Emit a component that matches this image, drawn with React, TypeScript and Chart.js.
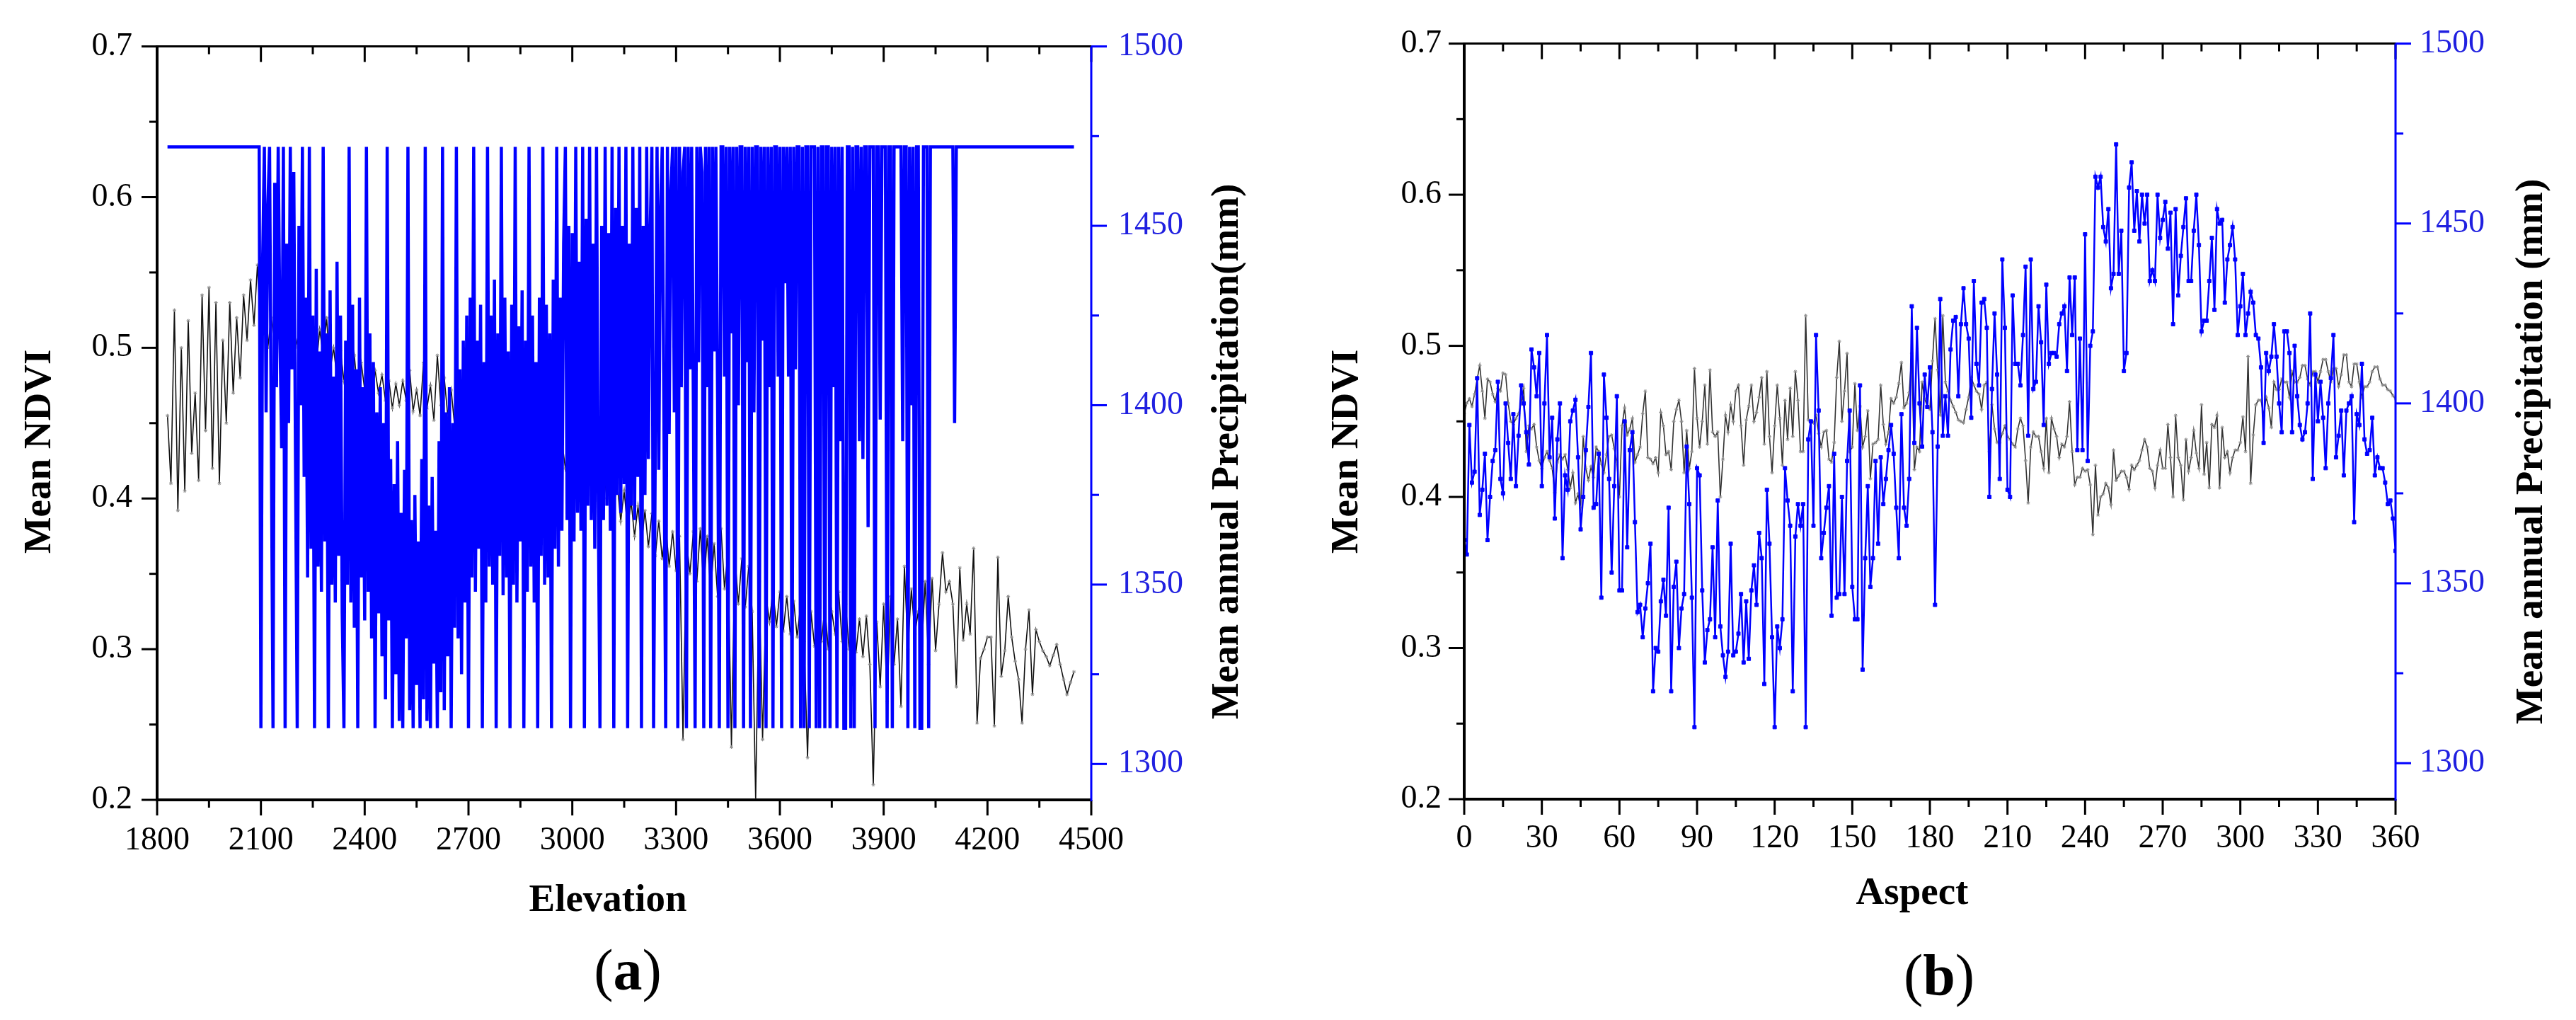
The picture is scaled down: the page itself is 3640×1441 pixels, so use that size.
import React, { useEffect, useRef } from 'react';
import Chart from 'chart.js/auto';

// (a) NDVI sampled every 10 m from 1830 m
const NDVI_ELEV_START = 1830;
const NDVI_ELEV_STEP = 10;
// (a) precipitation sampled every 5 m from 1830 m
const PRECIP_ELEV_START = 1830;
const PRECIP_ELEV_STEP = 5;

const ndviByElevation = [
  0.455, 0.410, 0.525, 0.392, 0.500, 0.405, 0.518, 0.430, 0.470, 0.412,
  0.535, 0.445, 0.540, 0.420, 0.530, 0.410, 0.505, 0.450, 0.530, 0.470,
  0.520, 0.480, 0.535, 0.505, 0.545, 0.515, 0.555, 0.510, 0.525, 0.500,
  0.520, 0.505, 0.515, 0.495, 0.518, 0.502, 0.512, 0.500, 0.510, 0.495,
  0.508, 0.498, 0.505, 0.488, 0.512, 0.495, 0.520, 0.485, 0.500, 0.480,
  0.498, 0.478, 0.492, 0.475, 0.495, 0.470, 0.490, 0.472, 0.488, 0.468,
  0.485, 0.470, 0.482, 0.465, 0.478, 0.460, 0.476, 0.462, 0.478, 0.465,
  0.485, 0.458, 0.472, 0.455, 0.490, 0.460, 0.475, 0.452, 0.495, 0.462,
  0.480, 0.455, 0.472, 0.448, 0.478, 0.460, 0.470, 0.455, 0.468, 0.450,
  0.465, 0.448, 0.462, 0.445, 0.460, 0.442, 0.458, 0.440, 0.455, 0.438,
  0.452, 0.435, 0.450, 0.432, 0.448, 0.430, 0.446, 0.428, 0.444, 0.426,
  0.442, 0.425, 0.440, 0.422, 0.438, 0.420, 0.436, 0.418, 0.434, 0.415,
  0.430, 0.412, 0.428, 0.410, 0.425, 0.405, 0.420, 0.400, 0.415, 0.395,
  0.410, 0.385, 0.405, 0.380, 0.398, 0.375, 0.395, 0.370, 0.392, 0.368,
  0.390, 0.362, 0.385, 0.360, 0.382, 0.355, 0.378, 0.352, 0.375, 0.240,
  0.372, 0.350, 0.378, 0.345, 0.380, 0.340, 0.375, 0.338, 0.370, 0.335,
  0.380, 0.340, 0.365, 0.235, 0.362, 0.330, 0.360, 0.328, 0.355, 0.325,
  0.200, 0.345, 0.240, 0.335, 0.318, 0.340, 0.315, 0.338, 0.312, 0.335,
  0.310, 0.332, 0.308, 0.330, 0.305, 0.228, 0.325, 0.302, 0.330, 0.305,
  0.328, 0.300, 0.325, 0.310, 0.338, 0.305, 0.330, 0.300, 0.325, 0.298,
  0.320, 0.295, 0.322, 0.290, 0.210, 0.318, 0.275, 0.330, 0.265, 0.335,
  0.290, 0.320, 0.262, 0.355, 0.300, 0.340, 0.310, 0.325, 0.300, 0.345,
  0.290, 0.347, 0.299, 0.330, 0.364, 0.338, 0.345, 0.330, 0.275, 0.354,
  0.306, 0.330, 0.310, 0.367, 0.251, 0.294, 0.300, 0.308, 0.308, 0.249,
  0.361, 0.282, 0.299, 0.335, 0.308, 0.292, 0.280, 0.251, 0.300, 0.326,
  0.270, 0.313, 0.305, 0.299, 0.295, 0.289, 0.296, 0.303, 0.290, 0.280,
  0.270, 0.278, 0.285,
];

const precipByElevation = [
  // 1830-2090
  1472, 1472, 1472, 1472, 1472, 1472, 1472, 1472, 1472, 1472,
  1472, 1472, 1472, 1472, 1472, 1472, 1472, 1472, 1472, 1472,
  1472, 1472, 1472, 1472, 1472, 1472, 1472, 1472, 1472, 1472,
  1472, 1472, 1472, 1472, 1472, 1472, 1472, 1472, 1472, 1472,
  1472, 1472, 1472, 1472, 1472, 1472, 1472, 1472, 1472, 1472,
  1472, 1472, 1472,
  // 2095-2225
  1472, 1310, 1440, 1472, 1398, 1455, 1472, 1392, 1310, 1462,
  1405, 1472, 1420, 1388, 1472, 1310, 1445, 1395, 1472, 1410,
  1465, 1385, 1310, 1450, 1400, 1472, 1380,
  // 2230-2325
  1430, 1352, 1472, 1360, 1425, 1310, 1438, 1355, 1415, 1348,
  1472, 1362, 1420, 1310, 1432, 1350, 1408, 1345, 1440, 1358,
  // 2330-2445
  1425, 1342, 1310, 1418, 1350, 1472, 1345, 1428, 1338, 1410,
  1310, 1430, 1352, 1405, 1340, 1472, 1348, 1420, 1335, 1412,
  1310, 1398, 1342, 1405,
  // 2450-2685
  1330, 1395, 1318, 1472, 1340, 1385, 1310, 1378, 1325, 1390,
  1312, 1370, 1310, 1382, 1335, 1472, 1315, 1368, 1310, 1375,
  1322, 1362, 1310, 1385, 1318, 1472, 1312, 1372, 1310, 1380,
  1328, 1365, 1310, 1390, 1320, 1472, 1315, 1398, 1330, 1405,
  1310, 1395, 1338, 1472, 1335, 1410, 1325, 1418,
  // 2690-2965
  1345, 1425, 1310, 1430, 1352, 1472, 1348, 1418, 1360, 1428,
  1310, 1412, 1345, 1472, 1355, 1425, 1350, 1435, 1310, 1420,
  1358, 1472, 1347, 1430, 1352, 1415, 1310, 1428, 1350, 1472,
  1345, 1422, 1362, 1432, 1310, 1418, 1348, 1472, 1355, 1425,
  1345, 1412, 1310, 1430, 1358, 1472, 1350, 1428, 1352, 1420,
  1310, 1435, 1360, 1472, 1355, 1430,
  // 2970-3285
  1365, 1445, 1472, 1368, 1450, 1310, 1448, 1362, 1472, 1370,
  1440, 1365, 1472, 1310, 1452, 1372, 1472, 1368, 1445, 1360,
  1472, 1375, 1310, 1450, 1368, 1472, 1372, 1448, 1365, 1472,
  1310, 1455, 1375, 1472, 1370, 1450, 1378, 1472, 1310, 1445,
  1372, 1472, 1368, 1455, 1380, 1472, 1310, 1450, 1375, 1472,
  1385, 1448, 1472, 1310, 1390, 1472, 1382, 1455, 1472, 1395,
  1310, 1472, 1392, 1460,
  // 3290-3695
  1472, 1398, 1472, 1310, 1472, 1405, 1465, 1472, 1310, 1472,
  1410, 1472, 1400, 1310, 1472, 1412, 1472, 1465, 1310, 1472,
  1405, 1472, 1310, 1472, 1415, 1472, 1402, 1310, 1472, 1472,
  1408, 1472, 1310, 1472, 1420, 1472, 1310, 1472, 1400, 1472,
  1472, 1310, 1472, 1412, 1472, 1310, 1472, 1398, 1472, 1472,
  1310, 1472, 1418, 1472, 1310, 1472, 1405, 1472, 1310, 1472,
  1472, 1408, 1472, 1310, 1472, 1434, 1472, 1408, 1472, 1310,
  1472, 1410, 1472, 1472, 1310, 1472, 1310, 1472, 1472, 1310,
  1472, 1472,
  // 3700-4040
  1472, 1310, 1472, 1310, 1472, 1472, 1310, 1472, 1472, 1310,
  1472, 1405, 1472, 1310, 1472, 1390, 1472, 1310, 1310, 1472,
  1472, 1310, 1472, 1310, 1472, 1472, 1390, 1472, 1385, 1472,
  1472, 1366, 1472, 1472, 1472, 1310, 1472, 1472, 1396, 1472,
  1472, 1472, 1310, 1472, 1472, 1310, 1472, 1472, 1472, 1472,
  1472, 1390, 1472, 1472, 1310, 1472, 1400, 1472, 1310, 1472,
  1472, 1310, 1310, 1472, 1472, 1472, 1310, 1472, 1472,
  // 4045-4450
  1472, 1472, 1472, 1472, 1472, 1472, 1472, 1472, 1472, 1472,
  1472, 1472, 1395,
  1472, 1472, 1472, 1472, 1472, 1472, 1472, 1472, 1472, 1472,
  1472, 1472, 1472, 1472, 1472, 1472, 1472, 1472, 1472, 1472,
  1472, 1472, 1472, 1472, 1472, 1472, 1472, 1472, 1472, 1472,
  1472, 1472, 1472, 1472, 1472, 1472, 1472, 1472, 1472, 1472,
  1472, 1472, 1472, 1472, 1472, 1472, 1472, 1472, 1472, 1472,
  1472, 1472, 1472, 1472, 1472, 1472, 1472, 1472, 1472, 1472,
  1472, 1472, 1472, 1472, 1472, 1472, 1472, 1472, 1472,
];

// (b) aspect profile, one value per degree 0..360
const ndviByAspect = [
  0.455, 0.462, 0.465, 0.460, 0.468, 0.478, 0.487, 0.470, 0.452, 0.478,
  0.476, 0.468, 0.463, 0.472, 0.470, 0.482, 0.481, 0.462, 0.450, 0.448,
  0.452, 0.455, 0.462, 0.472, 0.430, 0.447, 0.445, 0.448, 0.433, 0.424,
  0.419, 0.426, 0.430, 0.424, 0.419, 0.403, 0.423, 0.428, 0.425, 0.428,
  0.418, 0.406, 0.416, 0.396, 0.402, 0.393, 0.440, 0.419, 0.411, 0.420,
  0.413, 0.433, 0.430, 0.422, 0.416, 0.428, 0.440, 0.441, 0.432, 0.423,
  0.400, 0.447, 0.459, 0.441, 0.445, 0.452, 0.423, 0.428, 0.433, 0.455,
  0.470, 0.426, 0.425, 0.422, 0.426, 0.416, 0.456, 0.447, 0.428, 0.430,
  0.418, 0.450, 0.458, 0.464, 0.450, 0.416, 0.444, 0.419, 0.430, 0.485,
  0.452, 0.433, 0.450, 0.474, 0.435, 0.484, 0.443, 0.440, 0.443, 0.400,
  0.425, 0.454, 0.443, 0.461, 0.450, 0.470, 0.474, 0.447, 0.421, 0.451,
  0.460, 0.474, 0.450, 0.456, 0.466, 0.479, 0.435, 0.483, 0.440, 0.416,
  0.447, 0.474, 0.452, 0.421, 0.464, 0.438, 0.472, 0.440, 0.483, 0.464,
  0.430, 0.430, 0.520, 0.451, 0.450, 0.449, 0.454, 0.442, 0.433, 0.443,
  0.444, 0.425, 0.423, 0.436, 0.479, 0.503, 0.450, 0.470, 0.495, 0.430,
  0.433, 0.475, 0.444, 0.460, 0.433, 0.440, 0.457, 0.412, 0.435, 0.436,
  0.438, 0.474, 0.448, 0.435, 0.443, 0.465, 0.462, 0.466, 0.475, 0.489,
  0.459, 0.462, 0.469, 0.495, 0.418, 0.433, 0.430, 0.476, 0.465, 0.460,
  0.458, 0.490, 0.518, 0.484, 0.454, 0.520, 0.476, 0.470, 0.464, 0.460,
  0.456, 0.451, 0.450, 0.449, 0.458, 0.466, 0.479, 0.474, 0.470, 0.468,
  0.458, 0.474, 0.476, 0.430, 0.461, 0.445, 0.436, 0.436, 0.442, 0.447,
  0.440, 0.438, 0.435, 0.433, 0.445, 0.452, 0.447, 0.424, 0.396, 0.433,
  0.443, 0.440, 0.440, 0.430, 0.419, 0.452, 0.416, 0.452, 0.445, 0.440,
  0.426, 0.435, 0.433, 0.440, 0.463, 0.430, 0.408, 0.413, 0.413, 0.419,
  0.417, 0.418, 0.408, 0.375, 0.421, 0.388, 0.400, 0.402, 0.409, 0.406,
  0.395, 0.431, 0.411, 0.414, 0.417, 0.417, 0.413, 0.405, 0.421, 0.418,
  0.421, 0.424, 0.431, 0.438, 0.433, 0.419, 0.417, 0.406, 0.421, 0.431,
  0.419, 0.419, 0.448, 0.426, 0.400, 0.454, 0.426, 0.421, 0.398, 0.438,
  0.417, 0.426, 0.444, 0.429, 0.419, 0.461, 0.415, 0.436, 0.406, 0.448,
  0.446, 0.454, 0.406, 0.446, 0.426, 0.430, 0.416, 0.426, 0.431, 0.431,
  0.436, 0.453, 0.430, 0.493, 0.409, 0.441, 0.461, 0.464, 0.464, 0.454,
  0.466, 0.459, 0.446, 0.476, 0.471, 0.471, 0.478, 0.476, 0.476, 0.466,
  0.483, 0.476, 0.476, 0.479, 0.487, 0.487, 0.478, 0.474, 0.483, 0.483,
  0.476, 0.483, 0.491, 0.491, 0.483, 0.476, 0.485, 0.485, 0.473, 0.481,
  0.494, 0.494, 0.476, 0.473, 0.488, 0.488, 0.476, 0.466, 0.473, 0.473,
  0.476, 0.483, 0.486, 0.486, 0.478, 0.474, 0.474, 0.471, 0.470, 0.467,
  0.465,
];

const precipByAspect = [
  1362, 1358, 1394, 1378, 1381, 1407, 1369, 1376, 1386, 1362,
  1374, 1384, 1387, 1406, 1379, 1375, 1400, 1389, 1379, 1397,
  1377, 1391, 1405, 1400, 1392, 1383, 1415, 1410, 1402, 1414,
  1377, 1400, 1419, 1385, 1396, 1368, 1390, 1400, 1357, 1380,
  1376, 1395, 1398, 1401, 1385, 1365, 1374, 1387, 1399, 1414,
  1371, 1372, 1386, 1346, 1408, 1396, 1379, 1353, 1377, 1402,
  1348, 1348, 1395, 1360, 1387, 1392, 1367, 1342, 1344, 1335,
  1343, 1350, 1361, 1320, 1332, 1331, 1345, 1351, 1341, 1371,
  1320, 1349, 1356, 1332, 1343, 1347, 1388, 1372, 1346, 1310,
  1382, 1380, 1348, 1328, 1337, 1340, 1360, 1335, 1373, 1338,
  1330, 1324, 1331, 1361, 1330, 1331, 1336, 1347, 1328, 1345,
  1329, 1348, 1355, 1344, 1364, 1357, 1322, 1376, 1361, 1335,
  1310, 1338, 1332, 1340, 1382, 1373, 1366, 1320, 1363, 1372,
  1366, 1372, 1310, 1390, 1395, 1366, 1419, 1398, 1357, 1364,
  1371, 1377, 1341, 1386, 1346, 1347, 1374, 1347, 1384, 1398,
  1349, 1340, 1340, 1405, 1326, 1357, 1377, 1349, 1357, 1384,
  1361, 1385, 1372, 1379, 1387, 1394, 1386, 1371, 1357, 1397,
  1371, 1366, 1379, 1427, 1389, 1421, 1400, 1388, 1408, 1399,
  1410, 1392, 1344, 1388, 1429, 1391, 1402, 1391, 1415, 1423,
  1424, 1402, 1422, 1432, 1422, 1418, 1396, 1434, 1411, 1405,
  1428, 1429, 1421, 1374, 1404, 1425, 1408, 1379, 1440, 1421,
  1376, 1374, 1430, 1411, 1411, 1405, 1419, 1438, 1391, 1440,
  1404, 1406, 1427, 1417, 1394, 1433, 1411, 1414, 1414, 1413,
  1422, 1425, 1427, 1409, 1435, 1419, 1435, 1387, 1418, 1387,
  1447, 1384, 1416, 1420, 1463, 1460, 1463, 1449, 1445, 1454,
  1432, 1436, 1472, 1436, 1448, 1409, 1414, 1460, 1467, 1448,
  1459, 1445, 1458, 1450, 1458, 1434, 1437, 1434, 1458, 1446,
  1451, 1456, 1443, 1453, 1422, 1454, 1430, 1441, 1449, 1457,
  1434, 1434, 1448, 1458, 1444, 1420, 1423, 1423, 1434, 1446,
  1426, 1454, 1450, 1451, 1428, 1440, 1444, 1449, 1440, 1419,
  1427, 1436, 1419, 1425, 1431, 1428, 1419, 1418, 1410, 1389,
  1414, 1409, 1413, 1422, 1413, 1400, 1392, 1420, 1420, 1414,
  1392, 1416, 1402, 1394, 1390, 1392, 1400, 1425, 1379, 1408,
  1395, 1406, 1396, 1382, 1400, 1407, 1419, 1385, 1391, 1398,
  1380, 1398, 1400, 1402, 1367, 1397, 1394, 1411, 1390, 1386,
  1387, 1396, 1380, 1385, 1382, 1382, 1378, 1372, 1373, 1368,
  1359,
];

const ndviTicks = [0.2, 0.3, 0.4, 0.5, 0.6, 0.7];
const precipTicks = [1300, 1350, 1400, 1450, 1500];
const elevationTicks = [1800, 2100, 2400, 2700, 3000, 3300, 3600, 3900, 4200, 4500];
const aspectTicks = [0, 30, 60, 90, 120, 150, 180, 210, 240, 270, 300, 330, 360];

const BLUE = '#0000ff';
const FONT = '"Liberation Serif", "Times New Roman", serif';
const W = 1820;
const H = 1441;

const mids = (t: number[]) => t.slice(1).map((v, i) => (v + t[i]) / 2);

// axis frame, tick marks, titles and caption
const framePlugin = {
  id: 'frame',
  afterDraw(chart: any) {
    const o = chart.options.plugins.frame;
    const { ctx, chartArea: a } = chart;
    const sx = chart.scales.x;
    const sy = chart.scales.y;
    const sy2 = chart.scales.y2;
    const MAJ = 22;
    const MIN = 11;
    ctx.save();
    const line = (x1: number, y1: number, x2: number, y2: number, c: string, w: number) => {
      ctx.strokeStyle = c;
      ctx.lineWidth = w;
      ctx.beginPath();
      ctx.moveTo(x1, y1);
      ctx.lineTo(x2, y2);
      ctx.stroke();
    };
    o.xTicks.forEach((v: number) => {
      const p = sx.getPixelForValue(v);
      line(p, a.bottom, p, a.bottom + MAJ, '#000', 3);
      line(p, a.top, p, a.top + MAJ, '#000', 3);
    });
    mids(o.xTicks).forEach((v: number) => {
      const p = sx.getPixelForValue(v);
      line(p, a.bottom, p, a.bottom + MIN, '#000', 3);
      line(p, a.top, p, a.top + MIN, '#000', 3);
    });
    ndviTicks.forEach((v) => {
      const p = sy.getPixelForValue(v);
      line(a.left - MAJ, p, a.left, p, '#000', 3);
    });
    mids(ndviTicks).forEach((v) => {
      const p = sy.getPixelForValue(v);
      line(a.left - MIN, p, a.left, p, '#000', 3);
    });
    precipTicks.forEach((v) => {
      const p = sy2.getPixelForValue(v);
      line(a.right, p, a.right + MAJ, p, BLUE, 3);
    });
    mids(precipTicks).forEach((v) => {
      const p = sy2.getPixelForValue(v);
      line(a.right, p, a.right + MIN, p, BLUE, 3);
    });
    line(a.left, a.top, a.right, a.top, '#000', 3);
    line(a.left, a.bottom, a.right, a.bottom, '#000', 4);
    line(a.left, a.top - 1.5, a.left, a.bottom + 2, '#000', 4);
    line(a.right, a.top, a.right, a.bottom + 2, BLUE, 3);

    ctx.fillStyle = '#000';
    ctx.font = `bold 55px ${FONT}`;
    ctx.textAlign = 'center';
    ctx.textBaseline = 'alphabetic';
    ctx.fillText(o.xTitle, (a.left + a.right) / 2 + o.xTitleDx, o.xTitleY);

    ctx.save();
    ctx.translate(a.left - 151, 638);
    ctx.rotate(-Math.PI / 2);
    ctx.fillText('Mean NDVI', 0, 0);
    ctx.restore();

    ctx.save();
    ctx.translate(a.right + 207, 638);
    ctx.rotate(-Math.PI / 2);
    ctx.fillText(o.y2Title, 0, 0);
    ctx.restore();

    // caption like "(a)" with a bold letter
    const parts = [
      { t: '(', f: `82px ${FONT}` },
      { t: o.caption, f: `bold 82px ${FONT}` },
      { t: ')', f: `82px ${FONT}` },
    ];
    const widths = parts.map((p) => {
      ctx.font = p.f;
      return ctx.measureText(p.t).width;
    });
    let cx = (a.left + a.right) / 2 + o.captionDx - widths.reduce((s, w) => s + w, 0) / 2;
    ctx.textAlign = 'left';
    parts.forEach((p, i) => {
      ctx.font = p.f;
      ctx.fillText(p.t, cx, o.captionY);
      cx += widths[i];
    });
    ctx.restore();
  },
};

type PanelCfg = {
  ndvi: { x: number; y: number }[];
  precip: { x: number; y: number }[];
  xMin: number;
  xMax: number;
  xTicks: number[];
  left: number;
  right: number;
  bottom: number;
  xTitle: string;
  xTitleDx: number;
  xTitleY: number;
  y2Title: string;
  caption: string;
  captionDx: number;
  captionY: number;
  xPad: number;
  yPad: number;
  y2Pad: number;
  ndviColor: string;
  blueWidth: number;
  blueRadius: number;
};

const Panel: React.FC<{ cfg: PanelCfg }> = ({ cfg }) => {
  const canvasRef = useRef<HTMLCanvasElement>(null);

  useEffect(() => {
    if (!canvasRef.current) return;
    const tickFont = { family: FONT, size: 46 };
    const chart = new Chart(canvasRef.current, {
      type: 'line',
      data: {
        datasets: [
          {
            label: 'Mean annual Precipitation',
            data: cfg.precip,
            yAxisID: 'y2',
            borderColor: BLUE,
            backgroundColor: BLUE,
            borderWidth: cfg.blueWidth,
            pointRadius: cfg.blueRadius,
            pointStyle: 'rect',
            pointBackgroundColor: BLUE,
            pointBorderColor: BLUE,
            pointBorderWidth: 1,
            tension: 0,
            order: 0,
          },
          {
            label: 'Mean NDVI',
            data: cfg.ndvi,
            yAxisID: 'y',
            borderColor: cfg.ndviColor,
            backgroundColor: 'transparent',
            borderWidth: 1.6,
            pointRadius: 2.5,
            pointStyle: 'star',
            pointBorderColor: '#8c8c8c',
            pointBorderWidth: 1,
            tension: 0,
            order: 1,
          },
        ],
      },
      options: {
        animation: false,
        responsive: true,
        maintainAspectRatio: false,
        events: [],
        layout: { padding: { top: 57, left: 0, right: 0, bottom: 0 } },
        plugins: {
          legend: { display: false },
          tooltip: { enabled: false },
          frame: cfg,
        } as any,
        scales: {
          x: {
            type: 'linear',
            position: 'bottom',
            min: cfg.xMin,
            max: cfg.xMax,
            afterBuildTicks: (s: any) => {
              s.ticks = cfg.xTicks.map((v) => ({ value: v }));
            },
            afterFit: (s: any) => {
              s.height = H - cfg.bottom;
            },
            grid: { display: false, drawTicks: false },
            border: { display: false },
            ticks: {
              autoSkip: false,
              maxRotation: 0,
              minRotation: 0,
              padding: cfg.xPad,
              color: '#000',
              font: tickFont,
              callback: (v: any) => String(v),
            },
          },
          y: {
            type: 'linear',
            position: 'left',
            min: 0.2,
            max: 0.7,
            afterBuildTicks: (s: any) => {
              s.ticks = ndviTicks.map((v) => ({ value: v }));
            },
            afterFit: (s: any) => {
              s.width = cfg.left;
            },
            grid: { display: false, drawTicks: false },
            border: { display: false },
            ticks: {
              padding: cfg.yPad,
              color: '#000',
              font: tickFont,
              callback: (v: any) => Number(v).toFixed(1),
            },
          },
          y2: {
            type: 'linear',
            position: 'right',
            min: 1290,
            max: 1500,
            afterBuildTicks: (s: any) => {
              s.ticks = precipTicks.map((v) => ({ value: v }));
            },
            afterFit: (s: any) => {
              s.width = W - cfg.right;
            },
            grid: { display: false, drawTicks: false },
            border: { display: false },
            ticks: {
              padding: cfg.y2Pad,
              color: '#2020e0',
              font: tickFont,
              callback: (v: any) => String(v),
            },
          },
        },
      },
      plugins: [framePlugin],
    });
    return () => chart.destroy();
  }, [cfg]);

  return (
    <div style={{ position: 'relative', width: W, height: H }}>
      <canvas ref={canvasRef} />
    </div>
  );
};

const panelA: PanelCfg = {
  ndvi: ndviByElevation.map((v, i) => ({ x: NDVI_ELEV_START + i * NDVI_ELEV_STEP, y: v })),
  precip: precipByElevation.map((v, i) => ({ x: PRECIP_ELEV_START + i * PRECIP_ELEV_STEP, y: v })),
  xMin: 1800,
  xMax: 4500,
  xTicks: elevationTicks,
  left: 222,
  right: 1542,
  bottom: 1130,
  xTitle: 'Elevation',
  xTitleDx: -23,
  xTitleY: 1287,
  y2Title: 'Mean annual Precipitation(mm)',
  caption: 'a',
  captionDx: 5,
  captionY: 1398,
  xPad: 30,
  yPad: 35,
  y2Pad: 38,
  ndviColor: '#111111',
  blueWidth: 4.5,
  blueRadius: 0,
};

const panelB: PanelCfg = {
  ndvi: ndviByAspect.map((v, i) => ({ x: i, y: v })),
  precip: precipByAspect.map((v, i) => ({ x: i, y: v })),
  xMin: 0,
  xMax: 360,
  xTicks: aspectTicks,
  left: 249,
  right: 1565,
  bottom: 1129,
  xTitle: 'Aspect',
  xTitleDx: -25,
  xTitleY: 1277,
  y2Title: 'Mean annual Precipitation (mm)',
  caption: 'b',
  captionDx: 13,
  captionY: 1405,
  xPad: 28,
  yPad: 32,
  y2Pad: 34,
  ndviColor: '#333333',
  blueWidth: 2.5,
  blueRadius: 3.5,
};

const App: React.FC = () => (
  <div
    style={{
      position: 'absolute',
      left: 0,
      top: 0,
      width: W * 2,
      height: H,
      display: 'flex',
      background: '#fff',
    }}
  >
    <Panel cfg={panelA} />
    <Panel cfg={panelB} />
  </div>
);

export default App;
